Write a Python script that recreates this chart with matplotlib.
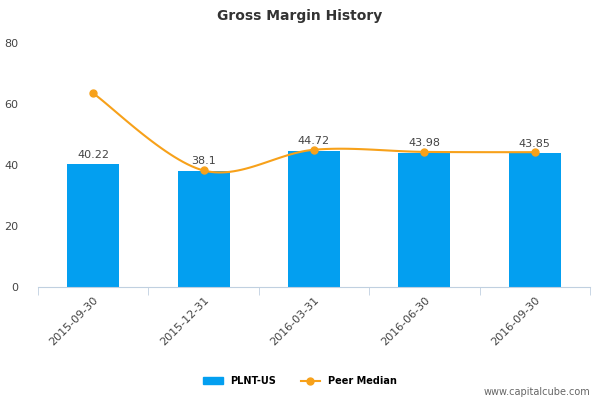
import numpy as np
import matplotlib
matplotlib.use("Agg")
import matplotlib.pyplot as plt

categories = ["2015-09-30", "2015-12-31", "2016-03-31", "2016-06-30", "2016-09-30"]
plnt = [40.22, 38.1, 44.72, 43.98, 43.85]
peer = [63.5, 38.2, 45.0, 44.3, 44.2]
bar_labels = ["40.22", "38.1", "44.72", "43.98", "43.85"]

fig = plt.figure(figsize=(6, 4), dpi=100)
ax = fig.add_axes([38/600, 1-287/400, 552/600, 244/400])
x = np.arange(len(categories))
ax.bar(x, plnt, width=0.47, color="#039ff0", zorder=2, label="PLNT-US")
for xi, v, t in zip(x, plnt, bar_labels):
    ax.text(xi, v + 1.5, t, ha="center", va="bottom", fontsize=8, color="#444444")

# smooth curve (Catmull-Rom) through the peer points
px, py = x.astype(float), np.array(peer)
sx, sy = [], []
P = np.column_stack([px, py])
P = np.vstack([P[0], P, P[-1]])
for i in range(1, len(P) - 2):
    p0, p1, p2, p3 = P[i-1], P[i], P[i+1], P[i+2]
    for t in np.linspace(0, 1, 30):
        pt = 0.5*((2*p1) + (-p0+p2)*t + (2*p0-5*p1+4*p2-p3)*t**2 + (-p0+3*p1-3*p2+p3)*t**3)
        sx.append(pt[0]); sy.append(pt[1])
ax.plot(sx, sy, color="#f7a11a", lw=1.5, zorder=3)
ax.plot(px, py, "o", color="#f7a11a", ms=5, zorder=4)

ax.set_xlim(-0.5, 4.5)
ax.set_ylim(0, 80)
ax.set_yticks([0, 20, 40, 60, 80])
ax.tick_params(axis="y", length=0, labelsize=8, labelcolor="#444444", pad=14)
ax.set_xticks(x)
ax.set_xticklabels(categories, rotation=45, ha="right", rotation_mode="anchor", fontsize=8, color="#444444")
ax.tick_params(axis="x", length=0, pad=6)
ax.set_xticks(np.arange(-0.5, 5, 1), minor=True)
ax.tick_params(axis="x", which="minor", length=6, color="#c0d0e0")
for s in ["top", "right", "left"]:
    ax.spines[s].set_visible(False)
ax.spines["bottom"].set_color("#c0d0e0")

fig.text(0.5, 1-16/400, "Gross Margin History", ha="center", va="center", fontsize=10, fontweight="bold", color="#333333")

from matplotlib.patches import Rectangle
from matplotlib.lines import Line2D
h1 = Rectangle((0, 0), 1, 1, color="#039ff0")
h2 = Line2D([0], [0], color="#f7a11a", marker="o", ms=5, lw=1.5)
fig.legend([h1, h2], ["PLNT-US", "Peer Median"], loc="center", bbox_to_anchor=(0.5, 1-381/400),
           ncol=2, frameon=False, prop={"size": 7, "weight": "bold"}, handlelength=2, columnspacing=2.5)
fig.text(590/600, 1-392/400, "www.capitalcube.com", ha="right", va="center", fontsize=7, color="#666666")
fig.savefig("out.png", dpi=100)
